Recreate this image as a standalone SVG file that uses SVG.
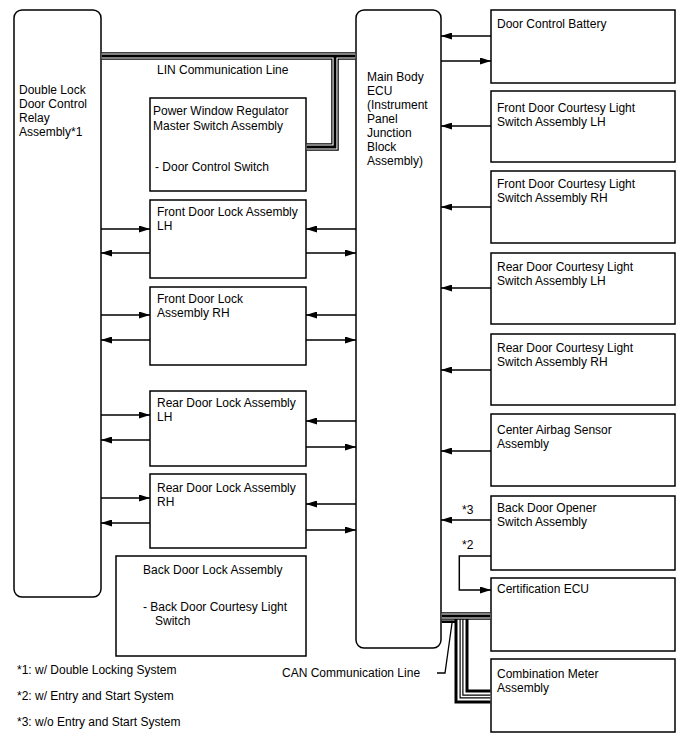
<svg xmlns="http://www.w3.org/2000/svg" xmlns:xlink="http://www.w3.org/1999/xlink" width="688" height="755" viewBox="0 0 688 755">
<style>
.box{fill:#fff;stroke:#000;stroke-width:1.5}
.t{font-family:"Liberation Sans",Arial,sans-serif;font-size:12px;fill:#000}
.c{stroke:#000;stroke-width:1.5;fill:none;marker-end:url(#ah)}
.ln{stroke:#000;stroke-width:1.3;fill:none}
.b1{stroke:#000;stroke-width:7.5;fill:none}
.b2{stroke:#fff;stroke-width:5;fill:none}
.b3{stroke:#000;stroke-width:2.8;fill:none}
.w1{stroke:#000;stroke-width:14;fill:none}
.w2{stroke:#fff;stroke-width:8;fill:none}
.w3{stroke:#000;stroke-width:4;fill:none}
.w4{stroke:#fff;stroke-width:1.6;fill:none}
</style>
<defs>
<marker id="ah" viewBox="0 0 11 7" refX="11" refY="3.5" markerWidth="11" markerHeight="7" orient="auto" markerUnits="userSpaceOnUse"><path d="M0,0 L11,3.5 L0,7 z" fill="#000"/></marker>
<path id="linH" d="M101.7,56 H355.3"/>
<path id="linV" d="M335,56 V147 H306.7"/>
<path id="canA" d="M441.7,616 H490.3"/>
<path id="canB" d="M461.5,616 V696.5 H490.3"/>
</defs>

<g id="relay"><rect class="box" x="14" y="10" width="87" height="587" rx="8"/>
<text class="t" x="19" y="94">Double Lock</text><text class="t" x="19" y="108">Door Control</text><text class="t" x="19" y="122">Relay</text><text class="t" x="19" y="136">Assembly*1</text></g>

<g id="ecu"><rect class="box" x="356" y="10" width="85" height="638" rx="8"/>
<text class="t" x="367" y="81">Main Body</text><text class="t" x="367" y="95">ECU</text><text class="t" x="367" y="109">(Instrument</text><text class="t" x="367" y="123">Panel</text><text class="t" x="367" y="137">Junction</text><text class="t" x="367" y="151">Block</text><text class="t" x="367" y="165">Assembly)</text></g>

<g id="pw"><rect class="box" x="150" y="98" width="156" height="93"/>
<text class="t" x="153" y="115">Power Window Regulator</text><text class="t" x="153" y="130">Master Switch Assembly</text><text class="t" x="155" y="171">- Door Control Switch</text></g>

<g id="fdl-lh"><rect class="box" x="150" y="200" width="156" height="78"/>
<text class="t" x="157" y="216">Front Door Lock Assembly</text><text class="t" x="157" y="230">LH</text></g>
<g id="fdl-rh"><rect class="box" x="150" y="287" width="156" height="78"/>
<text class="t" x="157" y="303">Front Door Lock</text><text class="t" x="157" y="317">Assembly RH</text></g>
<g id="rdl-lh"><rect class="box" x="150" y="391" width="156" height="75"/>
<text class="t" x="157" y="407">Rear Door Lock Assembly</text><text class="t" x="157" y="421">LH</text></g>
<g id="rdl-rh"><rect class="box" x="150" y="474" width="156" height="74"/>
<text class="t" x="157" y="492">Rear Door Lock Assembly</text><text class="t" x="157" y="506">RH</text></g>
<g id="bdl"><rect class="box" x="116" y="556" width="190" height="100"/>
<text class="t" x="143" y="574">Back Door Lock Assembly</text><text class="t" x="143" y="611">- Back Door Courtesy Light</text><text class="t" x="155" y="625">Switch</text></g>

<g id="dcb"><rect class="box" x="491" y="10" width="184" height="73"/><text class="t" x="497" y="28">Door Control Battery</text></g>
<g id="fdcl-lh"><rect class="box" x="491" y="91" width="184" height="71"/><text class="t" x="497" y="112">Front Door Courtesy Light</text><text class="t" x="497" y="126">Switch Assembly LH</text></g>
<g id="fdcl-rh"><rect class="box" x="491" y="171" width="184" height="72"/><text class="t" x="497" y="188">Front Door Courtesy Light</text><text class="t" x="497" y="202">Switch Assembly RH</text></g>
<g id="rdcl-lh"><rect class="box" x="491" y="253" width="184" height="71"/><text class="t" x="497" y="271">Rear Door Courtesy Light</text><text class="t" x="497" y="285">Switch Assembly LH</text></g>
<g id="rdcl-rh"><rect class="box" x="491" y="334" width="184" height="71"/><text class="t" x="497" y="352">Rear Door Courtesy Light</text><text class="t" x="497" y="366">Switch Assembly RH</text></g>
<g id="airbag"><rect class="box" x="491" y="414" width="184" height="72"/><text class="t" x="497" y="434">Center Airbag Sensor</text><text class="t" x="497" y="448">Assembly</text></g>
<g id="bdo"><rect class="box" x="491" y="496" width="184" height="74"/><text class="t" x="497" y="512">Back Door Opener</text><text class="t" x="497" y="526">Switch Assembly</text></g>
<g id="cert"><rect class="box" x="491" y="578" width="184" height="73"/><text class="t" x="497" y="593">Certification ECU</text></g>
<g id="meter"><rect class="box" x="491" y="659" width="184" height="73"/><text class="t" x="497" y="678">Combination Meter</text><text class="t" x="497" y="692">Assembly</text></g>

<g id="connectors">
<use xlink:href="#linH" class="b1"/><use xlink:href="#linV" class="b1"/>
<use xlink:href="#linH" class="b2"/><use xlink:href="#linV" class="b2"/>
<use xlink:href="#linH" class="b3"/><use xlink:href="#linV" class="b3"/>

<use xlink:href="#canB" class="w1"/><use xlink:href="#canB" class="w2"/><use xlink:href="#canB" class="w3"/><use xlink:href="#canB" class="w4"/>
<use xlink:href="#canA" class="b1"/><use xlink:href="#canA" class="b2"/><use xlink:href="#canA" class="b3"/>
<path d="M441.7,621.7 H456.5" stroke="#000" stroke-width="2.6" fill="none"/>
<path class="ln" d="M437,673 H445 L452,623"/>

<path class="c" d="M491,36 H441"/><path class="c" d="M441,61 H491"/>
<path class="c" d="M491,126 H441"/>
<path class="c" d="M491,207 H441"/>
<path class="c" d="M491,288 H441"/>
<path class="c" d="M491,370 H441"/>
<path class="c" d="M491,451 H441"/>
<path class="c" d="M491,520 H441"/>
<path class="c" d="M491,556 H459.3 V590 H491"/>

<path class="c" d="M101,229 H150"/><path class="c" d="M150,253 H101"/>
<path class="c" d="M356,229 H306"/><path class="c" d="M306,253 H356"/>
<path class="c" d="M101,315 H150"/><path class="c" d="M150,340 H101"/>
<path class="c" d="M356,315 H306"/><path class="c" d="M306,340 H356"/>
<path class="c" d="M101,415 H150"/><path class="c" d="M150,440 H101"/>
<path class="c" d="M356,421 H306"/><path class="c" d="M306,447 H356"/>
<path class="c" d="M101,498 H150"/><path class="c" d="M150,523 H101"/>
<path class="c" d="M356,504 H306"/><path class="c" d="M306,530 H356"/>
</g>

<text class="t" x="157" y="74">LIN Communication Line</text>
<text class="t" x="282" y="677">CAN Communication Line</text>
<text class="t" x="462" y="514">*3</text>
<text class="t" x="462" y="549">*2</text>
<text class="t" x="17" y="674">*1: w/ Double Locking System</text>
<text class="t" x="17" y="700">*2: w/ Entry and Start System</text>
<text class="t" x="17" y="726">*3: w/o Entry and Start System</text>
</svg>
